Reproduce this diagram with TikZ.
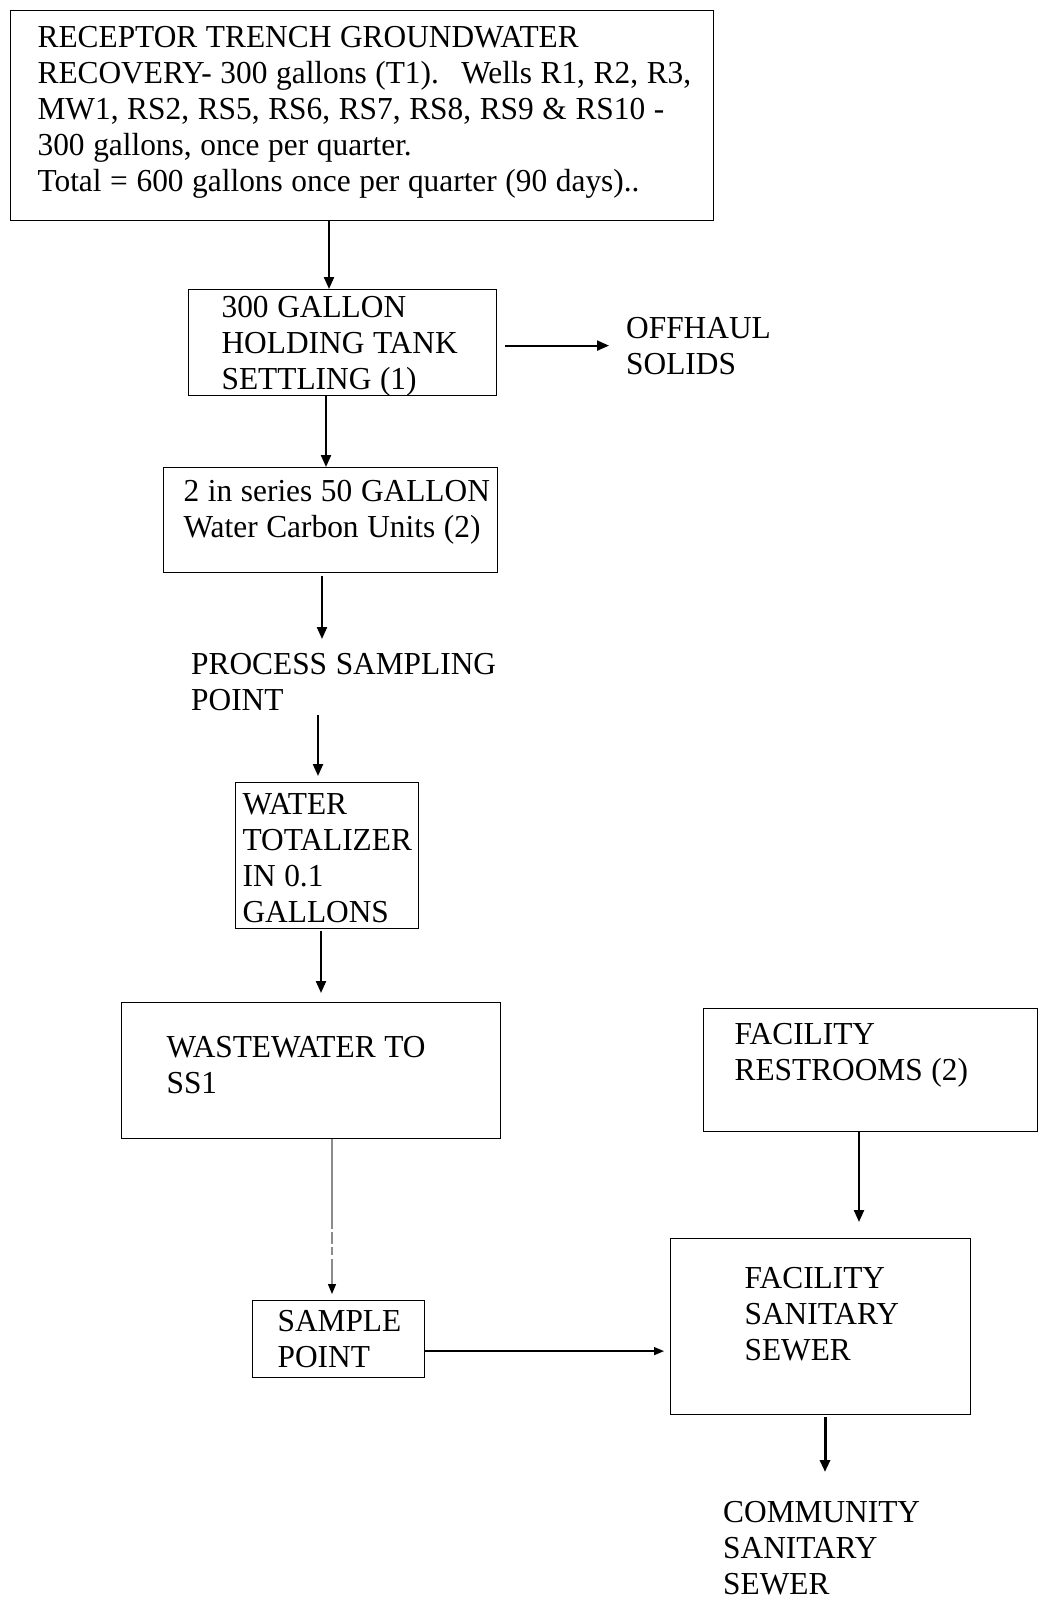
\documentclass[tikz,border=0pt]{standalone}
\usepackage{fontspec}
\setmainfont{Liberation Serif}[FakeStretch=0.98]
\usepackage{tikz}
\usetikzlibrary{arrows.meta, positioning}

\begin{document}
\begin{tikzpicture}[
        x=1pt, y=-1pt,
        every node/.style={inner sep=0pt, anchor=north west, font=\fontsize{32}{36}\selectfont},
        box/.style={draw, line width=1.2pt},
        pad/.style={execute at begin node={\leftskip=#1pt\rightskip=-80pt plus 1fil\spaceskip=0.27em\xspaceskip=0.27em}},
        flow/.style={draw, line width=2.2pt, -{Triangle[length=12pt, width=10pt]}},
        thin flow/.style={draw, line width=1.3pt, -{Triangle[length=10pt, width=8pt, color=black]}}
    ]
    \useasboundingbox (0,0) rectangle (1038,1598);

    % Nodes
    \node (recovery) [box, pad=27, text width=703pt, text height=37pt, text depth=173pt] at (10,10)
        {RECEPTOR TRENCH GROUNDWATER\\
         RECOVERY- 300 gallons (T1).\hspace{0.7em}Wells R1, R2, R3,\\
         MW1, RS2, RS5, RS6, RS7, RS8, RS9 \& RS10 -\\
         300 gallons, once per quarter.\\
         Total = 600 gallons once per quarter (90 days)..};
    \node (tank) [box, pad=33, text width=308pt, text height=28pt, text depth=78pt] at (188,289)
        {300 GALLON\\ HOLDING TANK\\ SETTLING (1)};
    \node (offhaul) [pad=17, text width=220pt, text height=30pt, text depth=50pt] at (609,308)
        {OFFHAUL\\ SOLIDS};
    \node (carbon) [box, pad=20, text width=334pt, text height=34pt, text depth=71pt] at (163,467)
        {2 in series 50 GALLON\\ Water Carbon Units (2)};
    \node (sampling) [pad=0, text width=330pt, text height=35pt, text depth=41pt] at (191,639)
        {PROCESS SAMPLING\\ POINT};
    \node (totalizer) [box, pad=7, text width=183pt, text height=32pt, text depth=114pt] at (235,782)
        {WATER\\ TOTALIZER\\ IN 0.1\\ GALLONS};
    \node (wastewater) [box, pad=45, text width=379pt, text height=55pt, text depth=81pt] at (121,1002)
        {WASTEWATER TO\\ SS1};
    \node (samplept) [box, pad=25, text width=172pt, text height=31pt, text depth=46pt] at (252,1300)
        {SAMPLE\\ POINT};
    \node (restrooms) [box, pad=31, text width=334pt, text height=36pt, text depth=87pt] at (703,1008)
        {FACILITY\\ RESTROOMS (2)};
    \node (sanitary) [box, pad=74, text width=300pt, text height=50pt, text depth=126pt] at (670,1238)
        {FACILITY\\ SANITARY\\ SEWER};
    \node (community) [pad=0, text width=300pt, text height=50pt, text depth=80pt] at (723,1472)
        {COMMUNITY\\ SANITARY\\ SEWER};

    % Edges
    \draw[flow] (recovery.south -| 329,0) -- (tank.north -| 329,0);
    \draw[flow] ([xshift=8pt, yshift=-3pt]tank.east) -- ([yshift=-3pt]tank.east -| offhaul.west);
    \draw[flow] (tank.south -| 326,0) -- (carbon.north -| 326,0);
    \draw[flow] ([yshift=-3pt]carbon.south -| 322,0) -- (sampling.north -| 322,0);
    \draw[flow] (sampling.south -| 318,0) -- ([yshift=6pt]totalizer.north -| 318,0);
    \draw[flow] ([yshift=-2pt]totalizer.south -| 321,0) -- ([yshift=9pt]wastewater.north -| 321,0);
    \draw[thin flow, draw=black!45, dash pattern=on 90pt off 3pt on 12pt off 3pt on 8pt off 4pt] (wastewater.south -| 332,0) -- ([yshift=6pt]samplept.north -| 332,0);
    \draw[thin flow] ([yshift=-12pt]samplept.east) -- ([xshift=-6pt, yshift=-12pt]samplept.east -| sanitary.west);
    \draw[flow] (restrooms.south -| 859,0) -- ([yshift=16pt]sanitary.north -| 859,0);
    \draw[flow, line width=3pt] ([yshift=-2pt]sanitary.south -| 825,0) -- (community.north -| 825,0);
\end{tikzpicture}
\end{document}
